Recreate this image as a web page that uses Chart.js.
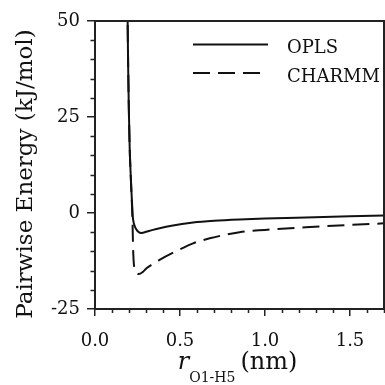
<!DOCTYPE html>
<html>
<head>
<meta charset="utf-8">
<script src="https://cdn.jsdelivr.net/npm/chart.js@4.4.1/dist/chart.umd.min.js"></script>
<style>
  html, body { margin: 0; padding: 0; background: #fff; }
  #wrap { width: 385px; height: 385px; }
</style>
</head>
<body>
<div id="wrap"><canvas id="energyChart" width="385" height="385"></canvas></div>
<script>
// --- Pairwise O1-H5 energy curves (r in nm, energy in kJ/mol) ---
const rOpls = [0.190, 0.192, 0.195, 0.199, 0.204, 0.209, 0.214, 0.218, 0.222, 0.228, 0.236, 0.245, 0.255,
  0.265, 0.275, 0.300, 0.340, 0.380, 0.450, 0.577, 0.700, 0.850, 1.000, 1.240, 1.500, 1.700];
const energyOpls = [62, 50, 38, 27, 17, 11, 6, 2.5, -0.8, -2.6, -3.7, -4.4, -4.9,
  -5.15, -5.2, -4.9, -4.4, -3.95, -3.3, -2.5, -2.05, -1.7, -1.45, -1.15, -0.85, -0.65];

const rCharmm = [0.190, 0.192, 0.196, 0.200, 0.205, 0.209, 0.214, 0.218, 0.221, 0.223, 0.225, 0.229, 0.236,
  0.246, 0.258, 0.280, 0.303, 0.340, 0.380, 0.480, 0.577, 0.675, 0.850, 1.000, 1.240, 1.500, 1.700];
const energyCharmm = [62, 50, 36, 25, 15.5, 11, 5.5, 1.5, -3, -7, -10.5, -13.5, -15.1,
  -15.7, -15.9, -15.4, -14.4, -13.3, -12.2, -9.9, -7.9, -6.6, -5.0, -4.4, -3.7, -3.1, -2.7];

const seriesNames = ['OPLS', 'CHARMM'];
const xTickValues = [0, 0.5, 1.0, 1.5];
const yTickValues = [-25, 0, 25, 50];
const xRange = [0, 1.7];
const yRange = [-25, 50];

const ink = '#111';
const axisColor = '#222';
const serif = '"DejaVu Serif", serif';
const dashPattern = [17, 8];

function toPoints(xs, ys) {
  return xs.map((x, i) => ({ x, y: ys[i] }));
}

/* ---------------------- extras: frame, minor ticks, legend, titles ---------------------- */
const decorations = {
  id: 'decorations',
  afterDraw(chart) {
    const { ctx, chartArea: a } = chart;
    const xs = chart.scales.x;
    const ys = chart.scales.y;
    ctx.save();

    // top and right sides of the box
    ctx.strokeStyle = axisColor;
    ctx.lineWidth = 2;
    ctx.beginPath();
    ctx.moveTo(a.left, a.top);
    ctx.lineTo(a.right, a.top);
    ctx.lineTo(a.right, a.bottom);
    ctx.stroke();

    // minor ticks
    ctx.lineWidth = 1.5;
    ctx.beginPath();
    for (let v = yRange[0]; v <= yRange[1]; v += 5) {
      if (v % 25 === 0) continue;
      const py = Math.round(ys.getPixelForValue(v)) + 0.5;
      ctx.moveTo(a.left - 4.5, py);
      ctx.lineTo(a.left, py);
    }
    for (let k = 0; k <= 17; k++) {
      if (k % 5 === 0) continue;
      const px = Math.round(xs.getPixelForValue(k / 10)) + 0.5;
      ctx.moveTo(px, a.bottom);
      ctx.lineTo(px, a.bottom + 4);
    }
    ctx.stroke();

    // legend
    ctx.strokeStyle = ink;
    ctx.lineWidth = 2;
    const legendRows = [44.5, 73];
    chart.data.datasets.forEach((ds, i) => {
      ctx.setLineDash(ds.borderDash || []);
      ctx.beginPath();
      ctx.moveTo(193, legendRows[i]);
      ctx.lineTo(268, legendRows[i]);
      ctx.stroke();
    });
    ctx.setLineDash([]);
    ctx.fillStyle = ink;
    ctx.font = '18px ' + serif;
    ctx.textAlign = 'left';
    ctx.textBaseline = 'alphabetic';
    ctx.fillText(seriesNames[0], 287, 53);
    ctx.fillText(seriesNames[1], 287, 82);

    // y title
    ctx.save();
    ctx.translate(32, 174);
    ctx.rotate(-Math.PI / 2);
    ctx.font = '23px ' + serif;
    ctx.textAlign = 'center';
    ctx.fillText('Pairwise Energy (kJ/mol)', 0, 0);
    ctx.restore();

    // x title: r with subscript, then unit
    const mainFont = '24px ' + serif;
    const italicFont = 'italic 24px ' + serif;
    const subFont = '14px ' + serif;
    ctx.font = italicFont;
    const rW = ctx.measureText('r').width;
    ctx.font = subFont;
    const subW = ctx.measureText('O1-H5').width;
    ctx.font = mainFont;
    const unitW = ctx.measureText('(nm)').width;
    const gap = 5;
    const total = rW + subW + gap + unitW;
    let x0 = (a.left + a.right) / 2 - 2 - total / 2;
    ctx.textAlign = 'left';
    ctx.font = italicFont;
    ctx.fillText('r', x0, 369);
    x0 += rW;
    ctx.font = subFont;
    ctx.fillText('O1-H5', x0, 382);
    x0 += subW + gap;
    ctx.font = mainFont;
    ctx.fillText('(nm)', x0, 369);

    ctx.restore();
  }
};

const energyChart = new Chart(document.getElementById('energyChart').getContext('2d'), {
  type: 'line',
  data: {
    datasets: [
      {
        label: seriesNames[0],
        data: toPoints(rOpls, energyOpls),
        borderColor: ink,
        borderWidth: 2,
        pointRadius: 0,
        fill: false,
        cubicInterpolationMode: 'monotone'
      },
      {
        label: seriesNames[1],
        data: toPoints(rCharmm, energyCharmm),
        borderColor: ink,
        borderWidth: 2,
        borderDash: dashPattern,
        pointRadius: 0,
        fill: false,
        cubicInterpolationMode: 'monotone'
      }
    ]
  },
  options: {
    responsive: false,
    animation: false,
    devicePixelRatio: 1,
    layout: { padding: { top: 21, right: 1, left: 0, bottom: 0 } },
    plugins: {
      legend: { display: false },
      tooltip: { enabled: false }
    },
    scales: {
      x: {
        type: 'linear',
        min: xRange[0],
        max: xRange[1],
        afterBuildTicks: scale => { scale.ticks = xTickValues.map(v => ({ value: v })); },
        afterFit: scale => { scale.height = 76; },
        ticks: {
          color: ink,
          font: { family: serif, size: 18 },
          padding: 15,
          maxRotation: 0,
          callback: v => Number(v).toFixed(1)
        },
        grid: { drawOnChartArea: false, drawTicks: true, tickLength: 7, color: axisColor, lineWidth: 1.5 },
        border: { display: true, color: axisColor, width: 2 }
      },
      y: {
        min: yRange[0],
        max: yRange[1],
        afterBuildTicks: scale => { scale.ticks = yTickValues.map(v => ({ value: v })); },
        afterFit: scale => { scale.width = 95; },
        ticks: {
          color: ink,
          font: { family: serif, size: 18 },
          padding: 7,
          callback: v => String(v)
        },
        grid: { drawOnChartArea: false, drawTicks: true, tickLength: 8, color: axisColor, lineWidth: 1.5 },
        border: { display: true, color: axisColor, width: 2 }
      }
    }
  },
  plugins: [decorations]
});
</script>
</body>
</html>
